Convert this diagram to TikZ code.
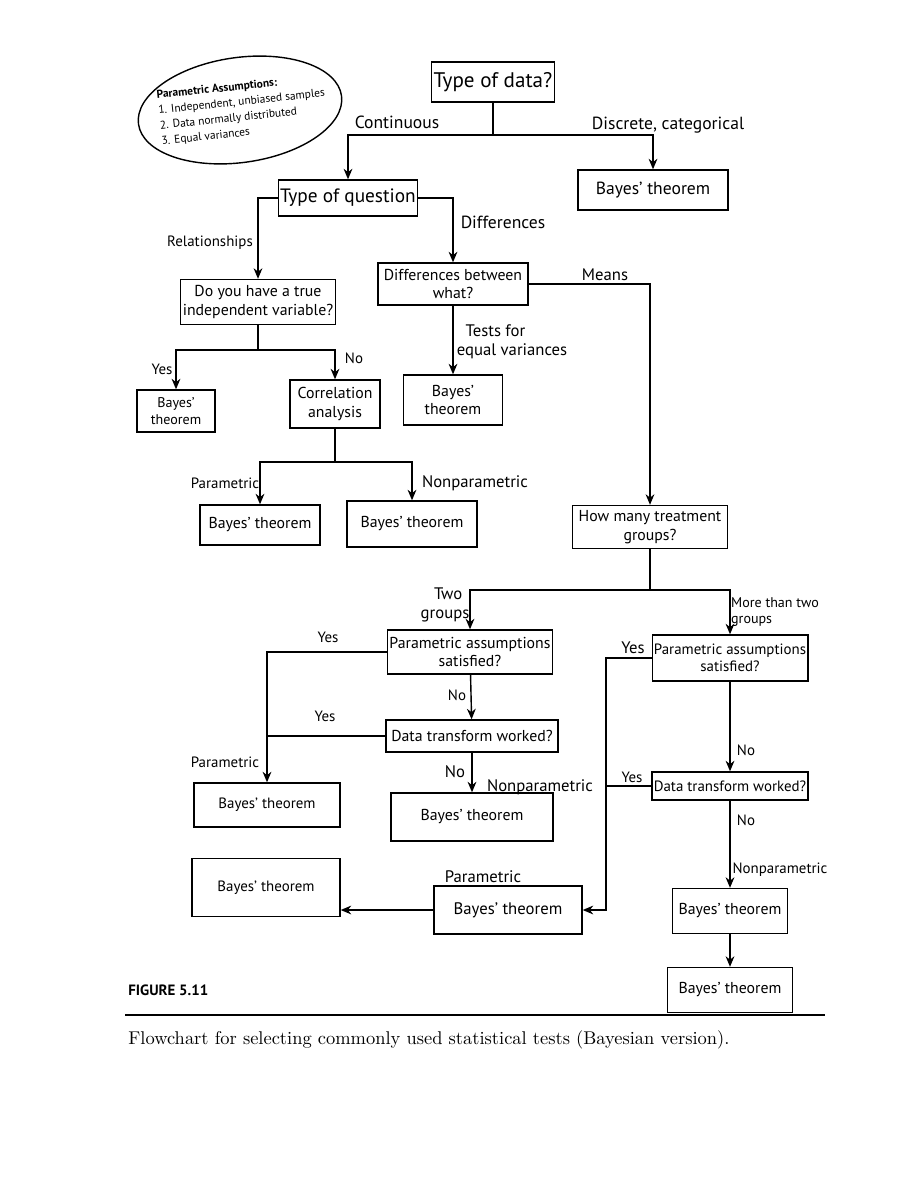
\documentclass[tikz,border=0pt]{standalone}
\usepackage{fontspec}
\setsansfont{PT Sans}
\usetikzlibrary{shapes.geometric,arrows.meta}
\begin{document}
\begin{tikzpicture}[
  box/.style={draw, line width=0.8pt, align=center, inner sep=1pt, font=\sffamily\fontsize{9}{10.5}\selectfont},
  lab/.style={font=\sffamily\fontsize{8.5}{10}\selectfont, align=left, inner sep=1pt},
  arr/.style={-{Stealth[length=6pt,width=5pt]}, line width=0.8pt},
  ln/.style={line width=0.8pt}
]
\useasboundingbox (0,0) rectangle (18,-24);
\fill[white] (0,0) rectangle (18,-24);
% ellipse
\draw[line width=0.8pt, rotate around={8:(4.8,-2.2)}] (4.8,-2.2) ellipse (2.05cm and 1.05cm);
\node[rotate=6, align=left, font=\sffamily\fontsize{6.5}{8.8}\selectfont, inner sep=0pt] (ell) at (4.85,-2.2) {\textbf{Parametric Assumptions:}\\1. Independent, unbiased samples\\2. Data normally distributed\\3. Equal variances};
% boxes
\node[box, minimum width=2.46cm, minimum height=0.8cm, font=\sffamily\fontsize{12}{14}\selectfont] (tod) at (9.86,-1.64) {Type of data?};
\node[box, minimum width=2.6cm, minimum height=0.72cm, font=\sffamily\fontsize{11}{13}\selectfont] (toq) at (6.96,-3.96) {Type of question};
\node[box, minimum width=3.0cm, minimum height=0.8cm, font=\sffamily\fontsize{10}{12}\selectfont] (bt1) at (13.06,-3.8) {Bayes' theorem};
\node[box, minimum width=3.1cm, minimum height=0.9cm] (dyh) at (5.16,-6.04) {Do you have a true\\independent variable?};
\node[box, minimum width=3.0cm, minimum height=0.84cm] (dbw) at (9.06,-5.68) {Differences between\\what?};
\node[box, minimum width=1.56cm, minimum height=0.84cm, font=\sffamily\fontsize{8}{9.5}\selectfont] (bt2) at (3.52,-8.22) {Bayes'\\theorem};
\node[box, minimum width=1.8cm, minimum height=0.96cm] (ca) at (6.7,-8.08) {Correlation\\analysis};
\node[box, minimum width=1.98cm, minimum height=1.0cm] (bt3) at (9.06,-8.0) {Bayes'\\theorem};
\node[box, minimum width=2.4cm, minimum height=0.8cm] (bt4) at (5.2,-10.5) {Bayes' theorem};
\node[box, minimum width=2.6cm, minimum height=0.92cm] (bt5) at (8.24,-10.48) {Bayes' theorem};
\node[box, minimum width=3.1cm, minimum height=0.86cm] (hmt) at (13.0,-10.54) {How many treatment\\groups?};
\node[box, minimum width=2.96cm, minimum height=0.88cm] (pa1) at (9.4,-13.04) {Parametric assumptions\\satisfied?};
\node[box, minimum width=2.96cm, minimum height=0.92cm, font=\sffamily\fontsize{8.5}{10}\selectfont] (pa2) at (14.6,-13.16) {Parametric assumptions\\satisfied?};
\node[box, minimum width=3.44cm, minimum height=0.64cm] (dtw1) at (9.44,-14.72) {Data transform worked?};
\node[box, minimum width=3.06cm, minimum height=0.56cm, font=\sffamily\fontsize{8.5}{10}\selectfont] (dtw2) at (14.6,-15.72) {Data transform worked?};
\node[box, minimum width=2.92cm, minimum height=0.88cm, font=\sffamily\fontsize{8.5}{10}\selectfont] (bt6) at (5.34,-16.1) {Bayes' theorem};
\node[box, minimum width=3.24cm, minimum height=0.96cm] (bt7) at (9.44,-16.34) {Bayes' theorem};
\node[box, minimum width=2.96cm, minimum height=1.16cm, font=\sffamily\fontsize{8.5}{10}\selectfont] (bt8) at (5.32,-17.75) {Bayes' theorem};
\node[box, minimum width=2.96cm, minimum height=0.96cm, font=\sffamily\fontsize{9.5}{11}\selectfont] (bt9) at (10.16,-18.2) {Bayes' theorem};
\node[box, minimum width=2.3cm, minimum height=0.9cm] (bt10) at (14.6,-18.22) {Bayes' theorem};
\node[box, minimum width=2.5cm, minimum height=0.9cm] (bt11) at (14.6,-19.8) {Bayes' theorem};
% junctions
\coordinate (j1) at (9.86,-2.7);
\coordinate (j2) at (5.16,-7.0);
\coordinate (j3) at (6.7,-9.24);
\coordinate (j4) at (13.0,-11.8);
\coordinate (cL) at (12.12,0);
% connectors
\draw[ln] (tod) -- (j1);
\draw[arr] (j1) -| (toq);
\draw[arr] (j1) -| (bt1);
\draw[arr] (toq.west) -| (dyh);
\draw[arr] (toq.east) -| (dbw);
\draw[arr] (dbw.east) -| (hmt);
\draw[arr] (dbw) -- (bt3);
\draw[ln] (dyh) -- (j2);
\draw[arr] (j2) -| (bt2);
\draw[arr] (j2) -| (ca);
\draw[ln] (ca) -- (j3);
\draw[arr] (j3) -| (bt4);
\draw[arr] (j3) -| (bt5);
\draw[ln] (hmt) -- (j4);
\draw[arr] (j4) -| (pa1);
\draw[arr] (j4) -| (pa2);
\draw[arr] (pa1.west) -| (bt6);
\draw[ln] (dtw1.west) -- (dtw1.west -| bt6.north);
\draw[arr] (pa1) -- (dtw1);
\draw[arr] (dtw1) -- (bt7);
\draw[arr] (pa2.west) -- (pa2.west -| cL) |- (bt9.east);
\draw[ln] (dtw2.west) -- (dtw2.west -| cL);
\draw[arr] (pa2) -- (dtw2);
\draw[arr] (dtw2) -- (bt10);
\draw[arr] (bt10) -- (bt11);
\draw[arr] (bt9.west) -- (bt9.west -| bt8.east);
% labels
\node[lab, font=\sffamily\fontsize{10}{12}\selectfont] (l1) at (7.94,-2.45) {Continuous};
\node[lab, font=\sffamily\fontsize{10}{12}\selectfont] (l2) at (13.36,-2.5) {Discrete, categorical};
\node[lab] (l3) at (4.2,-4.86) {Relationships};
\node[lab, font=\sffamily\fontsize{10}{12}\selectfont] (l4) at (10.06,-4.44) {Differences};
\node[lab, font=\sffamily\fontsize{9.5}{11}\selectfont] (l5) at (12.1,-5.5) {Means};
\node[lab, align=left, font=\sffamily\fontsize{9.5}{11}\selectfont] (l6) at (10.24,-6.84) {\ \ Tests for\\equal variances};
\node[lab] (l7) at (3.24,-7.38) {Yes};
\node[lab] (l8) at (7.08,-7.16) {No};
\node[lab] (l9) at (4.5,-9.66) {Parametric};
\node[lab, font=\sffamily\fontsize{9.5}{11}\selectfont] (l10) at (9.5,-9.66) {Nonparametric};
\node[lab, align=left, font=\sffamily\fontsize{9.5}{11}\selectfont] (l11) at (8.9,-12.1) {\ \ \ Two\\groups};
\node[lab, align=left, font=\sffamily\fontsize{8}{9.5}\selectfont] (l12) at (15.5,-12.24) {More than two\\groups};
\node[lab] (l13) at (6.56,-12.74) {Yes};
\node[lab] (l14) at (9.14,-13.9) {No};
\node[lab] (l15) at (6.5,-14.32) {Yes};
\node[lab] (l16) at (4.5,-15.24) {Parametric};
\node[lab, font=\sffamily\fontsize{9.5}{11}\selectfont] (l17) at (9.1,-15.44) {No};
\node[lab, font=\sffamily\fontsize{9.5}{11}\selectfont] (l18) at (10.8,-15.74) {Nonparametric};
\node[lab, font=\sffamily\fontsize{9.5}{11}\selectfont] (l19) at (12.66,-12.96) {Yes};
\node[lab] (l20) at (14.92,-15.0) {No};
\node[lab] (l21) at (12.64,-15.54) {Yes};
\node[lab] (l22) at (14.92,-16.4) {No};
\node[lab] (l23) at (15.6,-17.4) {Nonparametric};
\node[lab, font=\sffamily\fontsize{9.5}{11}\selectfont] (l24) at (9.66,-17.54) {Parametric};
% caption
\node[anchor=west, inner sep=0pt, font=\sffamily\bfseries\fontsize{8.5}{10}\selectfont] (fig) at (2.56,-19.8) {FIGURE 5.11};
\draw[line width=0.6pt] (2.5,-20.3) -- (16.5,-20.3);
\node[anchor=west, inner sep=0pt, font=\fontsize{10.5}{12}\selectfont] (cap) at (2.56,-20.8) {Flowchart for selecting commonly used statistical tests (Bayesian version).};
\end{tikzpicture}
\end{document}
